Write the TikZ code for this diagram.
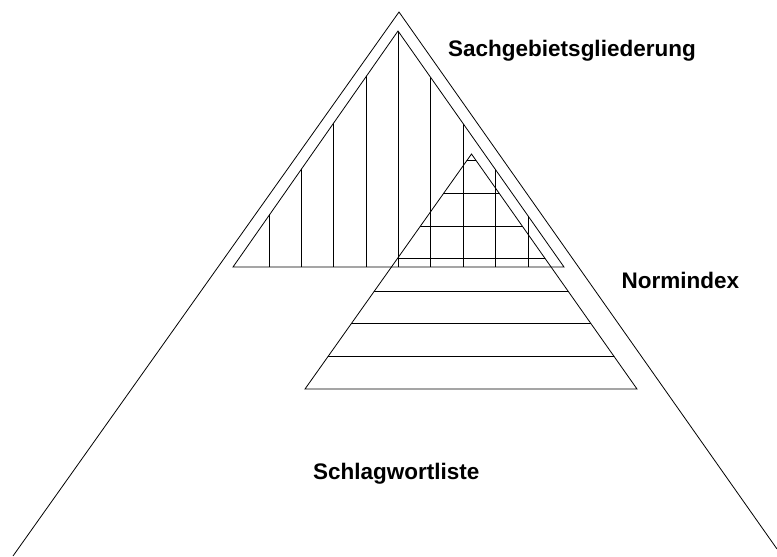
\documentclass[tikz,border=0pt]{standalone}
\usepackage{fontspec}
\setmainfont{Liberation Sans}
\begin{document}
\begin{tikzpicture}[x=1pt,y=-1pt,
  edge/.style={draw=black,line width=0.8pt,line join=miter},
  hatch/.style={draw=black,line width=0.8pt},
  lbl/.style={anchor=base west,inner sep=0pt,font=\fontsize{22.5}{26}\selectfont\bfseries}]
\useasboundingbox (0,0) rectangle (777,557);
% outer pyramid
\coordinate (O) at (399,12);
\coordinate (OL) at (13,556);
\coordinate (OR) at (777,549);
% triangle A (Sachgebietsgliederung)
\coordinate (A) at (398,31);
\coordinate (AL) at (233,267);
\coordinate (AR) at (564,267);
% triangle B (Normindex)
\coordinate (B) at (471.5,154);
\coordinate (BL) at (305,389);
\coordinate (BR) at (637,389);
% vertical hatching in A
\begin{scope}
  \clip (A) -- (AL) -- (AR) -- cycle;
  \foreach \x in {269,301.7,333.7,366,398,430.7,463.3,495.7,528.3}
    \draw[hatch] (\x,20) -- (\x,267);
\end{scope}
% horizontal hatching in B
\begin{scope}
  \clip (B) -- (BL) -- (BR) -- cycle;
  \foreach \y in {160.8,193.4,226,258.6,291.2,323.8,356.4}
    \draw[hatch] (290,\y) -- (650,\y);
\end{scope}
\draw[edge] (A) -- (AL) -- (AR) -- cycle;
\draw[edge] (B) -- (BL) -- (BR) -- cycle;
\draw[edge] (OL) -- (O) -- (OR);
\node[lbl] (sach) at (448,56.5) {Sachgebietsgliederung};
\node[lbl] (norm) at (621.5,288) {Normindex};
\node[lbl] (schl) at (313,479) {Schlagwortliste};
\end{tikzpicture}
\end{document}
